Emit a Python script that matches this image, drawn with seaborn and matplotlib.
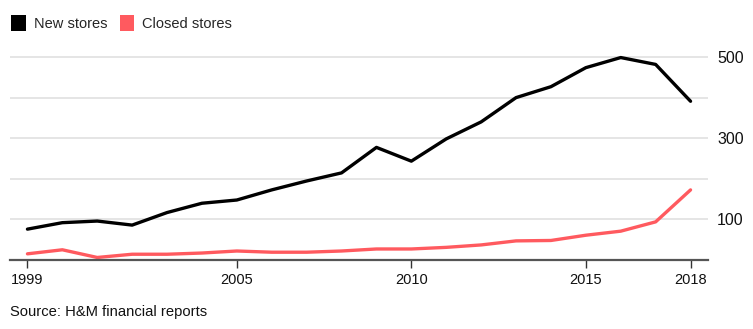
import matplotlib
matplotlib.use("Agg")
import matplotlib.pyplot as plt
from matplotlib.patches import Patch
import seaborn as sns
import pandas as pd

years = list(range(1999, 2019))
new_stores = [75, 91, 95, 85, 116, 139, 147, 172, 194, 214, 277, 243, 298, 340, 400, 427, 474, 499, 482, 391]
closed_stores = [14, 24, 5, 13, 13, 16, 21, 18, 18, 21, 26, 26, 30, 36, 46, 47, 60, 70, 93, 172]
series_names = ["New stores", "Closed stores"]
series_colors = ["#000000", "#ff5a5f"]
x_ticks = [1999, 2005, 2010, 2015, 2018]
y_ticks = [100, 300, 500]

df = pd.DataFrame({
    "year": years * 2,
    "value": new_stores + closed_stores,
    "series": [series_names[0]] * len(years) + [series_names[1]] * len(years),
})

sns.set_theme(style="white")
plt.rcParams["font.family"] = ["Liberation Sans", "DejaVu Sans"]

fig = plt.figure(figsize=(7.53, 3.29), dpi=100)
ax = fig.add_axes([10 / 753, 1 - 259.5 / 329, (708 - 10) / 753, (259.5 - 45) / 329])

for y in range(100, 600, 100):
    ax.axhline(y, color="#e3e3e3", lw=1.3, zorder=0)

sns.lineplot(data=df, x="year", y="value", hue="series", palette=series_colors,
             hue_order=series_names, linewidth=2.4, ax=ax, legend=False, zorder=3)

ax.set_xlim(1998.5, 2018.5)
ax.set_ylim(0, 530)
ax.set_xlabel("")
ax.set_ylabel("")
for s in ["top", "left", "right"]:
    ax.spines[s].set_visible(False)
ax.spines["bottom"].set_color("#555555")
ax.spines["bottom"].set_linewidth(1.6)
ax.spines["bottom"].set_zorder(4)

ax.set_xticks(x_ticks)
ax.set_xticklabels([str(t) for t in x_ticks])
ax.tick_params(axis="x", direction="out", length=6, width=1, color="#333333",
               labelsize=10.5, labelcolor="#111111", pad=4, bottom=True)
ax.yaxis.tick_right()
ax.set_yticks(y_ticks)
ax.set_yticklabels([str(t) for t in y_ticks])
ax.tick_params(axis="y", length=0, labelsize=11.5, labelcolor="#111111", pad=6.5)
ax.grid(False)

handles = [Patch(facecolor=c, edgecolor="none") for c in series_colors]
fig.legend(handles, series_names, loc="center left", bbox_to_anchor=(11 / 753, 1 - 23 / 329),
           ncol=2, frameon=False, fontsize=10.5, handlelength=1.0, handleheight=1.3,
           handletextpad=0.55, columnspacing=0.85, borderaxespad=0, borderpad=0)

fig.text(10 / 753, 1 - 312 / 329, "Source: H&M financial reports", fontsize=10.6,
         color="#111111", ha="left", va="center")

fig.savefig("out.png", dpi=100)
